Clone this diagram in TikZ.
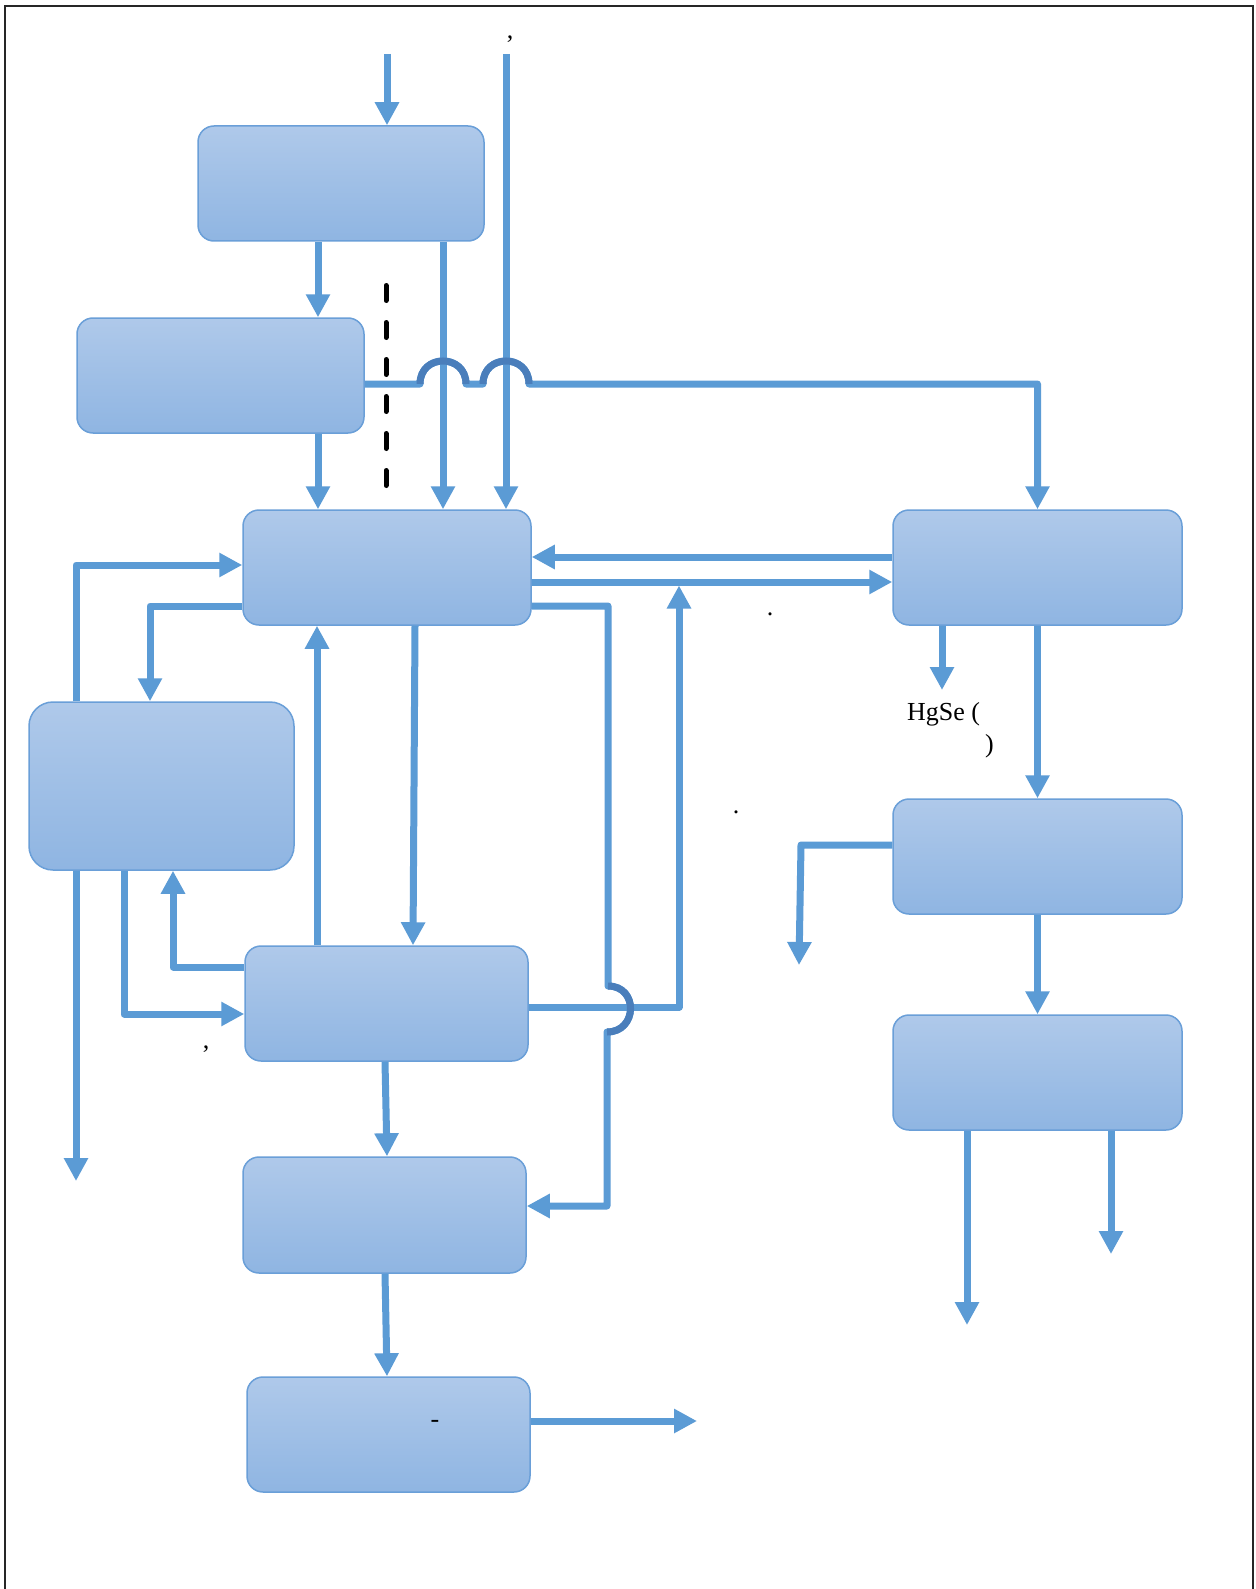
\documentclass[tikz,border=0pt]{standalone}
\usepackage{fontspec}
\setmainfont{Liberation Serif}
\usetikzlibrary{arrows.meta}
\definecolor{flow}{HTML}{5B9BD5}
\definecolor{hopc}{HTML}{4A7EBB}
\definecolor{boxtop}{HTML}{AFC9EA}
\definecolor{boxbot}{HTML}{8FB5E2}
\definecolor{boxline}{HTML}{6A9FD8}
\begin{document}
\begin{tikzpicture}[x=1pt,y=-1pt,
  procbox/.style={draw=boxline, line width=1.5pt, rounded corners=16pt,
    top color=boxtop, bottom color=boxbot, inner sep=0pt,
    minimum width=286pt, minimum height=115pt},
  flowline/.style={draw=flow, line width=7pt, line join=round},
  flowarrow/.style={flowline, -{Triangle[width=23pt,length=23pt]}},
  hop/.style={draw=hopc, line width=7pt},
  lbl/.style={inner sep=0pt, font=\fontsize{26}{30}\selectfont, text=black}]
\useasboundingbox (0,0) rectangle (1255,1589);
\fill[white] (0,0) rectangle (1255,1589);
\draw[black!85, line width=2.5pt] (5,1589) -- (5,6) -- (1253,6) -- (1253,1589);

% boxes
\node[procbox] (A) at (341,183.5) {};
\node[procbox, minimum width=287pt] (B) at (220.5,375.5) {};
\node[procbox, minimum width=288pt] (C) at (387,567.5) {};
\node[procbox, minimum width=289pt] (D) at (1037.5,567.5) {};
\node[procbox, minimum width=265pt, minimum height=168pt, rounded corners=24pt] (E) at (161.5,786) {};
\node[procbox, minimum width=283pt] (F) at (386.5,1003.5) {};
\node[procbox, minimum width=283pt, minimum height=116pt] (G) at (384.5,1215) {};
\node[procbox, minimum width=283pt] (H) at (388.5,1434.5) {};
\node[procbox, minimum width=289pt] (I) at (1037.5,856.5) {};
\node[procbox, minimum width=289pt] (J) at (1037.5,1072.5) {};

% free ends
\coordinate (in1) at (387,54);
\coordinate (in2) at (506,54);

% top inputs
\draw[flowarrow] (in1) -- (A.north -| in1);
\draw[flowarrow] (A.south -| 318,0) -- (B.north -| 318,0);
\draw[flowarrow] (A.south -| 443,0) -- (C.north -| 443,0);
\draw[flowarrow] (B.south -| 318,0) -- (C.north -| 318,0);
\draw[flowarrow] (in2) -- (C.north -| in2);

% dashed line
\draw[black, line width=5pt, line cap=round, dash pattern=on 15pt off 22pt] (386,285.5) -- (386,488);

% B -> D with hops
\draw[flowarrow] (B.east |- 0,384) -- (420,384)
  .. controls (420,353.3) and (466,353.3) .. (466,384) -- (483,384)
  .. controls (483,353.3) and (529,353.3) .. (529,384)
  -- (D.north |- 0,384) -- (D.north);
\draw[hop] (420,384) .. controls (420,353.3) and (466,353.3) .. (466,384);
\draw[hop] (483,384) .. controls (483,353.3) and (529,353.3) .. (529,384);

% C <-> D
\draw[flowarrow] (D.west |- 0,557) -- (C.east |- 0,557);
\draw[flowarrow] (C.east |- 0,582) -- (D.west |- 0,582);

% C <-> E
\draw[flowarrow] (E.north -| 76,0) -- (76,565) -- (C.west |- 0,565);
\draw[flowarrow] (C.west |- 0,606) -- (150,606) -- (E.north -| 150,0);

% C <-> F
\draw[flowarrow] (C.south -| 415,0) -- (F.north -| 413,0);
\draw[flowarrow] (F.north -| 317,0) -- (C.south -| 317,0);

% F -> join on C-D line
\coordinate (j1) at (679,585.5);
\draw[flowarrow] (F.east |- 0,1007) -- (679,1007) -- (j1);

% C -> G with hop
\draw[flowarrow] (C.east |- 0,606) -- (608,606) -- (608,986)
  .. controls (638.7,986) and (637.7,1032) .. (607,1032)
  -- (607,1206) -- (G.east |- 0,1206);
\draw[hop] (608,986) .. controls (638.7,986) and (637.7,1032) .. (607,1032);

% E <-> F and E out
\coordinate (o1) at (76,1181);
\draw[flowarrow] (E.south -| 76,0) -- (o1);
\draw[flowarrow] (E.south -| 124,0) -- (124,1014) -- (F.west |- 0,1014);
\draw[flowarrow] (F.west |- 0,967) -- (173,967) -- (E.south -| 173,0);

% F -> G -> H -> out
\draw[flowarrow] (F.south -| 385,0) -- (G.north -| 387,0);
\draw[flowarrow] (G.south -| 385,0) -- (H.north -| 387,0);
\coordinate (o2) at (697,1421);
\draw[flowarrow] (H.east |- 0,1421) -- (o2);

% right column
\coordinate (o3) at (942,690);
\draw[flowarrow] (D.south -| 942,0) -- (o3);
\draw[flowarrow] (D.south) -- (I.north);
\coordinate (o4) at (799,965);
\draw[flowarrow] (I.west |- 0,845) -- (801,845) -- (o4);
\draw[flowarrow] (I.south) -- (J.north);
\coordinate (o5) at (967,1325);
\coordinate (o6) at (1111,1254);
\draw[flowarrow] (J.south -| 967,0) -- (o5);
\draw[flowarrow] (J.south -| 1111,0) -- (o6);

% texts
\node[lbl, anchor=base] (t1) at (510,39) {,};
\node[lbl, anchor=base] (t2) at (206,1048) {,};
\node[lbl, anchor=base] (t3) at (770,615.5) {.};
\node[lbl, anchor=base] (t4) at (736,813) {.};
\node[lbl, anchor=base] (t5) at (435,1427) {-};
\node[lbl, anchor=base west] (t6) at (907,720) {HgSe (};
\node[lbl, anchor=base west] (t7) at (985,752) {)};
\end{tikzpicture}
\end{document}
